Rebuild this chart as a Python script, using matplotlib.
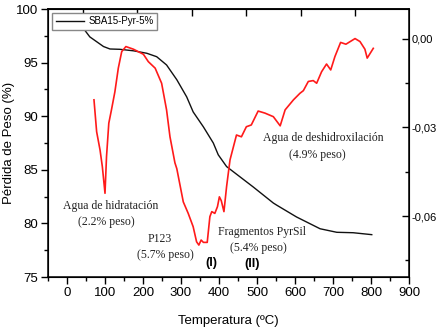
import matplotlib
matplotlib.use("Agg")
import matplotlib.pyplot as plt
from matplotlib.ticker import MultipleLocator, FixedLocator, FuncFormatter

# TGA curve (left axis): temperature (ºC) vs weight (%)
tga_temp = [30, 36, 43, 60, 78, 96, 113, 139, 175, 210, 236, 262, 289, 315, 332,
            359, 385, 398, 420, 490, 543, 552, 604, 666, 710, 753, 802]
tga_weight = [99.3, 98.9, 98.2, 97.4, 96.95, 96.5, 96.27, 96.24, 96.1, 95.87, 95.55,
              94.78, 93.4, 91.8, 90.4, 89.0, 87.5, 86.4, 85.3, 83.4, 81.9, 81.7,
              80.6, 79.5, 79.17, 79.13, 78.95]

# DTG curve (right axis)
dtg_temp = [71, 78, 87, 93, 100, 104, 110, 117, 126, 135, 144, 155, 175, 201, 214,
            232, 249, 262, 271, 284, 289, 306, 319, 332, 341, 347, 353, 359, 369,
            376, 381, 389, 396, 401, 406, 413, 420, 429, 446, 459, 472, 485, 503,
            521, 543, 561, 574, 596, 613, 622, 635, 648, 657, 670, 683, 694, 705,
            720, 734, 758, 771, 784, 790, 806]
dtg_value = [-0.0207, -0.0315, -0.0377, -0.0433, -0.0523, -0.0399, -0.0286, -0.0241,
             -0.0180, -0.0100, -0.0044, -0.0027, -0.0036, -0.0053, -0.0078, -0.0100,
             -0.0151, -0.0241, -0.0332, -0.0420, -0.0440, -0.0552, -0.0591, -0.0636,
             -0.0687, -0.0698, -0.0681, -0.0689, -0.0689, -0.0602, -0.0585, -0.0591,
             -0.0568, -0.0535, -0.0548, -0.0585, -0.0500, -0.0410, -0.0326, -0.0332,
             -0.0298, -0.0292, -0.0245, -0.0252, -0.0264, -0.0295, -0.0241, -0.0207,
             -0.0185, -0.0176, -0.0145, -0.0142, -0.0151, -0.0112, -0.0086, -0.0106,
             -0.0061, -0.0013, -0.0019, 0.0000, -0.0010, -0.0036, -0.0066, -0.0033]

x_ticks = [0, 100, 200, 300, 400, 500, 600, 700, 800, 900]
y_ticks = [75, 80, 85, 90, 95, 100]
right_ticks = [0.0, -0.03, -0.06]

# Annotations: (text, T, weight, bold)
labels = [
    ("Agua de hidratación", 115, 81.6, False),
    ("(2.2% peso)", 104, 80.1, False),
    ("P123", 245, 78.5, False),
    ("(5.7% peso)", 258, 77.05, False),
    ("(I)", 379, 76.3, True),
    ("Fragmentos PyrSil", 513, 79.2, False),
    ("(5.4% peso)", 503, 77.7, False),
    ("(II)", 488, 76.2, True),
    ("Agua de deshidroxilación", 674, 88.0, False),
    ("(4.9% peso)", 659, 86.4, False),
]

sans = ["Liberation Sans", "DejaVu Sans"]
serif = ["Liberation Serif", "DejaVu Serif"]
plt.rcParams['font.family'] = sans

fig = plt.figure(figsize=(4.38, 3.27), dpi=100)
ax = fig.add_axes([48 / 438, 50 / 327, (409 - 48) / 438, (277 - 9) / 327])

ax.plot(tga_temp, tga_weight, color="#111111", lw=1.0, label="SBA15-Pyr-5%", zorder=3)
ax.set_xlim(-50, 900)
ax.set_ylim(75, 100)
ax.set_xticks(x_ticks)
ax.set_yticks(y_ticks)
ax.xaxis.set_minor_locator(MultipleLocator(50))
ax.yaxis.set_minor_locator(MultipleLocator(2.5))
ax.tick_params(axis="both", which="major", direction="out", length=5, width=1,
               labelsize=9.5, pad=2)
ax.tick_params(axis="both", which="minor", direction="out", length=3, width=1)
ax.set_xlabel("Temperatura (ºC)", fontsize=9.5, labelpad=12)
ax.set_ylabel("Pérdida de Peso (%)", fontsize=9.5, labelpad=1)
for s in ax.spines.values():
    s.set_linewidth(1.1)

# Top axis ticks (no labels)
top = ax.secondary_xaxis("top")
top.xaxis.set_major_locator(FixedLocator([42, 185.5, 329, 472, 615, 758.5]))
top.tick_params(direction="in", length=5, width=1, labeltop=False)
top.spines["top"].set_linewidth(1.1)

ax2 = ax.twinx()
ax2.plot(dtg_temp, dtg_value, color="#ff1a1a", lw=1.2)
ax2.set_ylim(-0.0806, 0.0100)
ax2.set_yticks(right_ticks)
ax2.yaxis.set_minor_locator(FixedLocator([-0.015, -0.045, -0.075]))
ax2.yaxis.set_major_formatter(FuncFormatter(lambda v, p: f"{v:.2f}".replace(".", ",").replace("-0,00", "0,00")))
ax2.tick_params(axis="y", which="major", direction="in", length=5, width=1,
                labelsize=8, pad=2)
ax2.tick_params(axis="y", which="minor", direction="in", length=3, width=1)

for text, t, w, bold in labels:
    if bold:
        ax.text(t, w, text, ha="center", va="center", fontsize=9,
                fontweight="bold", family=sans)
    else:
        ax.text(t, w, text, ha="center", va="center", fontsize=8.5,
                family=serif, color="#222222")

leg = ax.legend(loc="upper left", bbox_to_anchor=(0.012, 0.985), fontsize=7,
                frameon=True, fancybox=False, edgecolor="#888888",
                framealpha=1.0, borderpad=0.35, handlelength=2.9,
                handletextpad=0.5, borderaxespad=0)
leg.get_frame().set_linewidth(1.0)
leg.set_zorder(10)

fig.savefig("out.png", dpi=100)
